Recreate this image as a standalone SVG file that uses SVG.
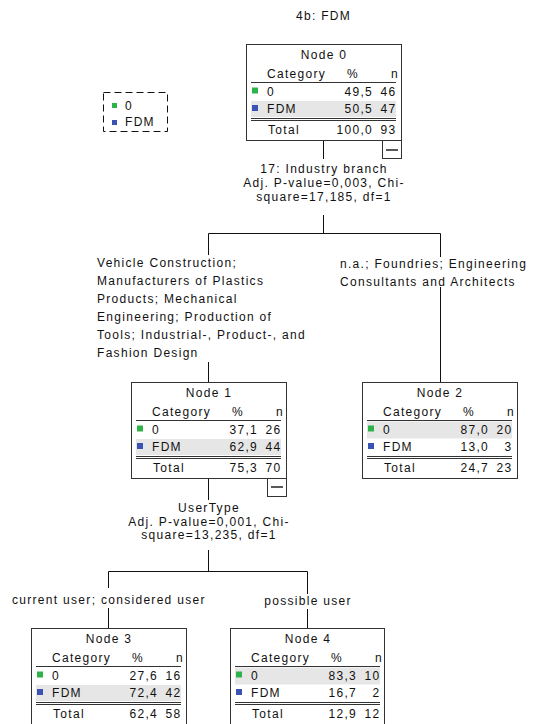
<svg xmlns="http://www.w3.org/2000/svg" width="535" height="724" viewBox="0 0 535 724">
  <style>
    text { font-family: "Liberation Sans", Arial, sans-serif; font-size: 12px; letter-spacing: 1.3px; fill: #111; }
    .c { text-anchor: middle; }
    .r { text-anchor: end; }
    .box { fill: #fff; stroke: #333; stroke-width: 1; }
    .band { fill: #e6e6e6; }
    .rule { stroke: #333; stroke-width: 1; }
    .green { fill: #2eb34a; }
    .blue { fill: #3a52b4; }
    .link { stroke: #111; stroke-width: 1; fill: none; }
    .legend { fill: #fff; stroke: #111; stroke-width: 1; stroke-dasharray: 7 4; }
    .toggle { fill: #fff; stroke: #333; stroke-width: 1; }
    .minus { stroke: #222; stroke-width: 1.5; }
  </style>

  <!-- title -->
  <text class="c" x="323.5" y="20">4b: FDM</text>

  <!-- legend -->
  <g id="legend">
    <rect class="legend" x="103.5" y="92.5" width="64" height="39"/>
    <rect class="green" x="112" y="103" width="5" height="5"/>
    <text x="125" y="109.5">0</text>
    <rect class="blue" x="112" y="120" width="5" height="5"/>
    <text x="125" y="126">FDM</text>
  </g>

  <!-- connectors -->
  <g id="connectors">
    <path class="link" d="M323.5 141 V159 M323.5 215 V233.5 M208.5 233.5 H440.5 M208.5 233.5 V255 M208.5 362 V382 M440.5 233.5 V257 M440.5 287 V382"/>
    <path class="link" d="M208.5 478 V500 M208.5 550 V571.5 M108.5 571.5 H307.5 M108.5 571.5 V588 M108.5 608 V628 M307.5 571.5 V594 M307.5 609 V628"/>
  </g>

  <!-- split and branch labels -->
  <g id="labels">
    <text class="c" x="324" y="173">17: Industry branch</text>
    <text class="c" x="324" y="187">Adj. P-value=0,003, Chi-</text>
    <text class="c" x="324" y="200.5">square=17,185, df=1</text>

    <text x="97" y="267">Vehicle Construction;</text>
    <text x="97" y="285">Manufacturers of Plastics</text>
    <text x="97" y="303">Products; Mechanical</text>
    <text x="97" y="321">Engineering; Production of</text>
    <text x="97" y="339">Tools; Industrial-, Product-, and</text>
    <text x="97" y="357">Fashion Design</text>

    <text x="340" y="267.5">n.a.; Foundries; Engineering</text>
    <text x="340" y="285.5">Consultants and Architects</text>

    <text class="c" x="209" y="512">UserType</text>
    <text class="c" x="209" y="525.5">Adj. P-value=0,001, Chi-</text>
    <text class="c" x="209" y="539">square=13,235, df=1</text>

    <text x="12" y="604">current user; considered user</text>
    <text class="c" x="308" y="605">possible user</text>
  </g>

  <!-- Node 0 -->
  <g id="node0" transform="translate(246,44)">
    <rect class="box" x="0.5" y="0.5" width="155" height="96"/>
    <rect class="band" x="5" y="57" width="145" height="16"/>
    <text class="c" x="78" y="15">Node 0</text>
    <text x="21" y="33.5">Category</text>
    <text class="c" x="107" y="33.5">%</text>
    <text class="r" x="153" y="33.5">n</text>
    <line class="rule" x1="5" y1="38.5" x2="150" y2="38.5"/>
    <rect class="green" x="6" y="43.5" width="6" height="6"/>
    <text x="21" y="52">0</text>
    <text class="r" x="127" y="52">49,5</text>
    <text class="r" x="150.5" y="52">46</text>
    <rect class="blue" x="6" y="61" width="6" height="6"/>
    <text x="21" y="69">FDM</text>
    <text class="r" x="127" y="69">50,5</text>
    <text class="r" x="150.5" y="69">47</text>
    <line class="rule" x1="5" y1="74.5" x2="150" y2="74.5"/>
    <line class="rule" x1="5" y1="76.5" x2="150" y2="76.5"/>
    <text x="22" y="90">Total</text>
    <text class="r" x="127" y="90">100,0</text>
    <text class="r" x="150.5" y="90">93</text>
    <rect class="toggle" x="136.5" y="96.5" width="19" height="18"/>
    <line class="minus" x1="140" y1="106" x2="152" y2="106"/>
  </g>

  <!-- Node 1 -->
  <g id="node1" transform="translate(131,382)">
    <rect class="box" x="0.5" y="0.5" width="155" height="96"/>
    <rect class="band" x="5" y="57" width="145" height="16"/>
    <text class="c" x="78" y="15">Node 1</text>
    <text x="21" y="33.5">Category</text>
    <text class="c" x="107" y="33.5">%</text>
    <text class="r" x="153" y="33.5">n</text>
    <line class="rule" x1="5" y1="38.5" x2="150" y2="38.5"/>
    <rect class="green" x="6" y="43.5" width="6" height="6"/>
    <text x="21" y="52">0</text>
    <text class="r" x="127" y="52">37,1</text>
    <text class="r" x="150.5" y="52">26</text>
    <rect class="blue" x="6" y="61" width="6" height="6"/>
    <text x="21" y="69">FDM</text>
    <text class="r" x="127" y="69">62,9</text>
    <text class="r" x="150.5" y="69">44</text>
    <line class="rule" x1="5" y1="74.5" x2="150" y2="74.5"/>
    <line class="rule" x1="5" y1="76.5" x2="150" y2="76.5"/>
    <text x="22" y="90">Total</text>
    <text class="r" x="127" y="90">75,3</text>
    <text class="r" x="150.5" y="90">70</text>
    <rect class="toggle" x="136.5" y="96.5" width="19" height="18"/>
    <line class="minus" x1="140" y1="105" x2="152" y2="105"/>
  </g>

  <!-- Node 2 -->
  <g id="node2" transform="translate(362,382)">
    <rect class="box" x="0.5" y="0.5" width="155" height="96"/>
    <rect class="band" x="5" y="39.5" width="145" height="17"/>
    <text class="c" x="78" y="15">Node 2</text>
    <text x="21" y="33.5">Category</text>
    <text class="c" x="107" y="33.5">%</text>
    <text class="r" x="153" y="33.5">n</text>
    <line class="rule" x1="5" y1="38.5" x2="150" y2="38.5"/>
    <rect class="green" x="6" y="43.5" width="6" height="6"/>
    <text x="21" y="52">0</text>
    <text class="r" x="127" y="52">87,0</text>
    <text class="r" x="150.5" y="52">20</text>
    <rect class="blue" x="6" y="61" width="6" height="6"/>
    <text x="21" y="69">FDM</text>
    <text class="r" x="127" y="69">13,0</text>
    <text class="r" x="150.5" y="69">3</text>
    <line class="rule" x1="5" y1="74.5" x2="150" y2="74.5"/>
    <line class="rule" x1="5" y1="76.5" x2="150" y2="76.5"/>
    <text x="22" y="90">Total</text>
    <text class="r" x="127" y="90">24,7</text>
    <text class="r" x="150.5" y="90">23</text>
  </g>

  <!-- Node 3 -->
  <g id="node3" transform="translate(31,628)">
    <rect class="box" x="0.5" y="0.5" width="155" height="96"/>
    <rect class="band" x="5" y="57" width="145" height="16"/>
    <text class="c" x="78" y="15">Node 3</text>
    <text x="21" y="33.5">Category</text>
    <text class="c" x="107" y="33.5">%</text>
    <text class="r" x="153" y="33.5">n</text>
    <line class="rule" x1="5" y1="38.5" x2="150" y2="38.5"/>
    <rect class="green" x="6" y="43.5" width="6" height="6"/>
    <text x="21" y="52">0</text>
    <text class="r" x="127" y="52">27,6</text>
    <text class="r" x="150.5" y="52">16</text>
    <rect class="blue" x="6" y="61" width="6" height="6"/>
    <text x="21" y="69">FDM</text>
    <text class="r" x="127" y="69">72,4</text>
    <text class="r" x="150.5" y="69">42</text>
    <line class="rule" x1="5" y1="74.5" x2="150" y2="74.5"/>
    <line class="rule" x1="5" y1="76.5" x2="150" y2="76.5"/>
    <text x="22" y="90">Total</text>
    <text class="r" x="127" y="90">62,4</text>
    <text class="r" x="150.5" y="90">58</text>
  </g>

  <!-- Node 4 -->
  <g id="node4" transform="translate(230,628)">
    <rect class="box" x="0.5" y="0.5" width="154" height="96"/>
    <rect class="band" x="5" y="39.5" width="145" height="17"/>
    <text class="c" x="78" y="15">Node 4</text>
    <text x="21" y="33.5">Category</text>
    <text class="c" x="107" y="33.5">%</text>
    <text class="r" x="153" y="33.5">n</text>
    <line class="rule" x1="5" y1="38.5" x2="150" y2="38.5"/>
    <rect class="green" x="6" y="43.5" width="6" height="6"/>
    <text x="21" y="52">0</text>
    <text class="r" x="127" y="52">83,3</text>
    <text class="r" x="150.5" y="52">10</text>
    <rect class="blue" x="6" y="61" width="6" height="6"/>
    <text x="21" y="69">FDM</text>
    <text class="r" x="127" y="69">16,7</text>
    <text class="r" x="150.5" y="69">2</text>
    <line class="rule" x1="5" y1="74.5" x2="150" y2="74.5"/>
    <line class="rule" x1="5" y1="76.5" x2="150" y2="76.5"/>
    <text x="22" y="90">Total</text>
    <text class="r" x="127" y="90">12,9</text>
    <text class="r" x="150.5" y="90">12</text>
  </g>
</svg>
